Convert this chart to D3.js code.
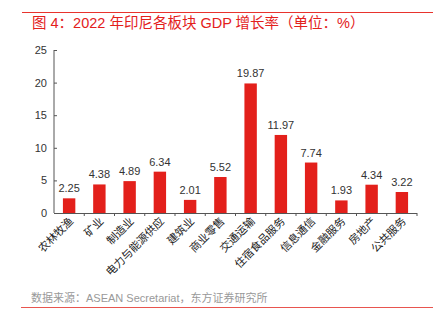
<!DOCTYPE html>
<html>
<head>
<meta charset="utf-8">
<script src="https://cdn.jsdelivr.net/npm/d3@7"></script>
<style>
  body { margin: 0; background: #fff; }
  svg { display: block; font-family: "Liberation Sans", Arial, "Noto Sans CJK SC", sans-serif; }
</style>
</head>
<body>
<svg id="chart" width="443" height="329"></svg>
<script>
// Sector GDP growth, Indonesia 2022 (%)
const sectors = ["农林牧渔", "矿业", "制造业", "电力与能源供应", "建筑业", "商业零售",
                 "交通运输", "住宿食品服务", "信息通信", "金融服务", "房地产", "公共服务"];
const growth = [2.25, 4.38, 4.89, 6.34, 2.01, 5.52, 19.87, 11.97, 7.74, 1.93, 4.34, 3.22];
const yTicks = [0, 5, 10, 15, 20, 25];

const svg = d3.select("#chart");
const red = "#e3201b";

const margin = { left: 54, right: 417, top: 50, bottom: 213 };

const x = d3.scaleBand()
    .domain(sectors)
    .range([margin.left, margin.right])
    .paddingInner(0.59)
    .paddingOuter(0.295);

const y = d3.scaleLinear()
    .domain([0, 25])
    .range([margin.bottom, margin.top]);

// header rule and title
svg.append("line")
    .attr("x1", 22).attr("x2", 433)
    .attr("y1", 12.5).attr("y2", 12.5)
    .attr("stroke", "#e8332d").attr("stroke-width", 1);

svg.append("text")
    .attr("x", 32).attr("y", 28)
    .attr("fill", "#e3201b")
    .attr("font-size", 14.5)
    .text("图 4：2022 年印尼各板块 GDP 增长率（单位：%）");

// y axis
const yAxis = svg.append("g")
    .attr("transform", `translate(${margin.left},0)`)
    .call(d3.axisRight(y).tickValues(yTicks).tickSize(3).tickFormat(d3.format("d")));
yAxis.select(".domain").attr("stroke", "#555").attr("d", `M0,${margin.top}V${margin.bottom}`);
yAxis.selectAll(".tick line").attr("stroke", "#555");
yAxis.selectAll(".tick text")
    .attr("x", -7)
    .attr("text-anchor", "end")
    .attr("fill", "#333")
    .attr("font-size", 11);

// x axis with ticks between categories
const bounds = d3.range(sectors.length + 1).map(i => margin.left + i * x.step() - x.step() * 0 + 0);
const xAxis = svg.append("g");
xAxis.append("line")
    .attr("x1", margin.left).attr("x2", margin.right)
    .attr("y1", margin.bottom + 0.5).attr("y2", margin.bottom + 0.5)
    .attr("stroke", "#555");
const step = (margin.right - margin.left) / sectors.length;
xAxis.selectAll("line.tk")
    .data(d3.range(1, sectors.length + 1))
    .enter().append("line")
    .attr("class", "tk")
    .attr("x1", i => margin.left + i * step).attr("x2", i => margin.left + i * step)
    .attr("y1", margin.bottom).attr("y2", margin.bottom + 3)
    .attr("stroke", "#555");

// bars
svg.selectAll("rect.bar")
    .data(growth)
    .enter().append("rect")
    .attr("class", "bar")
    .attr("x", (d, i) => x(sectors[i]))
    .attr("y", d => y(d))
    .attr("width", x.bandwidth())
    .attr("height", d => y(0) - y(d))
    .attr("fill", red);

// value labels
svg.selectAll("text.val")
    .data(growth)
    .enter().append("text")
    .attr("class", "val")
    .attr("x", (d, i) => x(sectors[i]) + x.bandwidth() / 2)
    .attr("y", d => y(d) - 6)
    .attr("text-anchor", "middle")
    .attr("fill", "#333")
    .attr("font-size", 11)
    .text(d => d.toFixed(2));

// rotated category labels
svg.selectAll("text.cat")
    .data(sectors)
    .enter().append("text")
    .attr("class", "cat")
    .attr("transform", d => `translate(${x(d) + x.bandwidth() / 2 + 5},${margin.bottom + 9}) rotate(-45)`)
    .attr("text-anchor", "end")
    .attr("fill", "#222")
    .attr("font-size", 11)
    .text(d => d);

// source note and footer rule
svg.append("text")
    .attr("x", 31).attr("y", 302)
    .attr("fill", "#999")
    .attr("font-size", 11)
    .text("数据来源：ASEAN Secretariat，东方证券研究所");

svg.append("line")
    .attr("x1", 21).attr("x2", 433)
    .attr("y1", 307.5).attr("y2", 307.5)
    .attr("stroke", "#e8554f").attr("stroke-width", 1);
</script>
</body>
</html>
